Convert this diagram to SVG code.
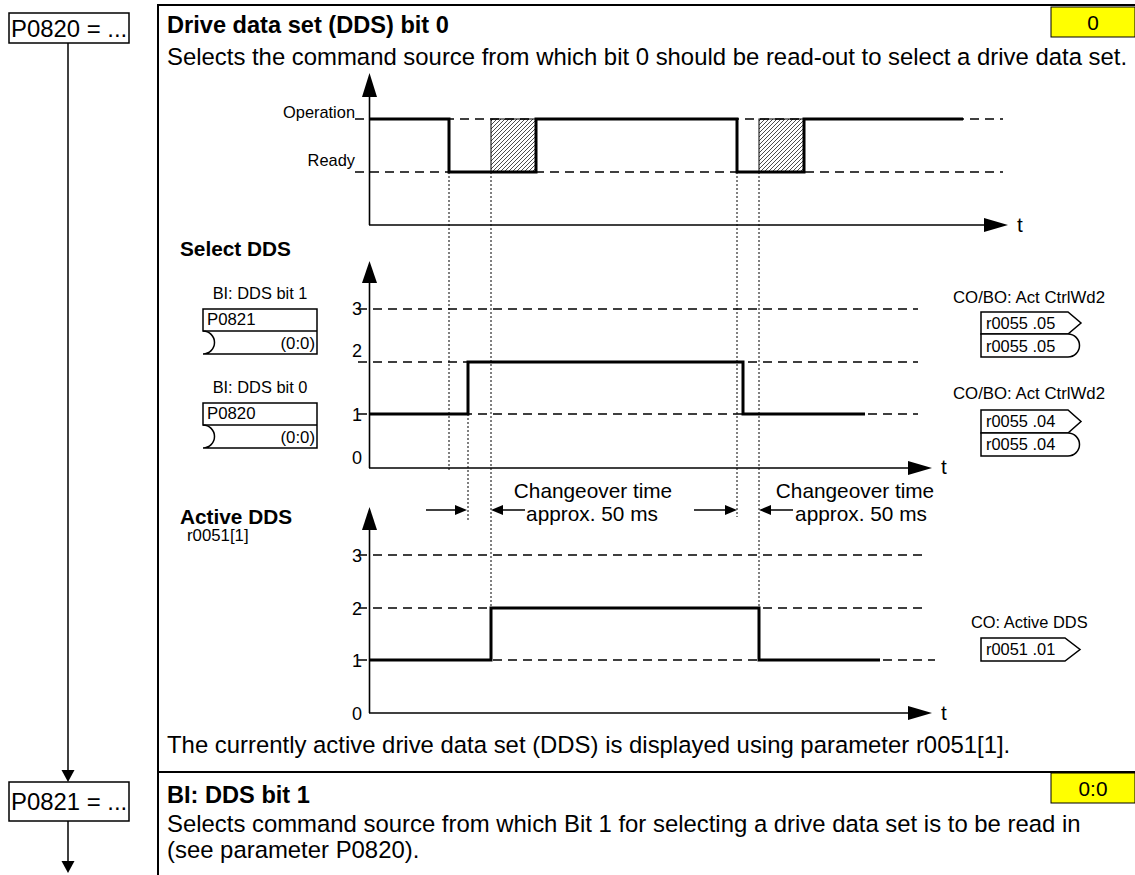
<svg xmlns="http://www.w3.org/2000/svg" width="1135" height="875" viewBox="0 0 1135 875">
<style>
text{font-family:"Liberation Sans",Arial,sans-serif;fill:#000}
.body{font-size:23.9px}
.tb{font-size:23.6px;font-weight:bold}
.b{font-weight:bold}
.lbl{font-size:20.8px}
.sm{font-size:16.4px}
.bx{font-size:16.8px}
.num{font-size:18px}
.frame{stroke:#000;stroke-width:2;fill:none}
.box{stroke:#000;stroke-width:1.5;fill:#fff}
.yel{fill:#ffff00;stroke:#000;stroke-width:1}
.axis{stroke:#000;stroke-width:1.6;fill:none}
.dash{stroke:#000;stroke-width:1.4;stroke-dasharray:9,6;fill:none}
.dot{stroke:#000;stroke-width:1;stroke-dasharray:2,2;fill:none}
.sig{stroke:#000;stroke-width:3;fill:none;stroke-linejoin:miter}
.ah{fill:#000;stroke:none}
.ln{stroke:#000;stroke-width:1.5;fill:none}
</style>
<defs>
<pattern id="hatch" patternUnits="userSpaceOnUse" width="4" height="4">
<path d="M0,4 L4,0 M-1,1 L1,-1 M3,5 L5,3" stroke="#000" stroke-width="0.7"/>
</pattern>
</defs>
<rect width="1135" height="875" fill="#fff"/>

<g id="connectors">
<line class="ln" x1="68" y1="43" x2="68" y2="772"/>
<polygon class="ah" points="61.5,770 74.5,770 68,782"/>
<line class="ln" x1="68" y1="821" x2="68" y2="862"/>
<polygon class="ah" points="61.5,861 74.5,861 68,873"/>
</g>

<g id="node-p0820">
<rect class="box" x="9" y="13" width="120" height="30"/>
<text class="body" x="11" y="36.5">P0820 = ...</text>
</g>
<g id="node-p0821">
<rect class="box" x="9" y="782" width="120" height="39"/>
<text class="body" x="11" y="809.5">P0821 = ...</text>
</g>

<g id="panel-frame">
<line class="frame" x1="158" y1="5" x2="1135" y2="5"/>
<line class="frame" x1="158" y1="4" x2="158" y2="875"/>
<line class="frame" x1="158" y1="772" x2="1135" y2="772"/>
</g>

<g id="section-p0820">
<text class="tb" x="167" y="33">Drive data set (DDS) bit 0</text>
<rect class="yel" x="1051" y="7" width="84" height="30"/>
<text class="lbl" text-anchor="middle" x="1093" y="29.5">0</text>
<text class="body" x="167" y="65">Selects the command source from which bit 0 should be read-out to select a drive data set.</text>
</g>

<g id="chart-operation">
<line class="dash" x1="355" y1="119" x2="1003" y2="119"/>
<line class="dash" x1="355" y1="172" x2="1003" y2="172"/>
<rect x="491" y="119" width="45" height="53" fill="url(#hatch)" stroke="#000" stroke-width="1"/>
<rect x="759" y="119" width="45" height="53" fill="url(#hatch)" stroke="#000" stroke-width="1"/>
<line class="axis" x1="369.5" y1="95" x2="369.5" y2="225"/>
<polygon class="ah" points="362,97 377,97 369.5,73"/>
<line class="axis" x1="369" y1="225" x2="986" y2="225"/>
<polygon class="ah" points="984,218 984,232 1008,225"/>
<path class="sig" d="M369,119 H449 V172 H536 V119 H737 V172 H804 V119 H963"/>
<text class="sm" text-anchor="end" x="355" y="117.5">Operation</text>
<text class="sm" text-anchor="end" x="355" y="166">Ready</text>
<text class="lbl" x="1017" y="232">t</text>
</g>

<g id="timing-guides">
<line class="dot" x1="449" y1="172" x2="449" y2="472"/>
<line class="dot" x1="491" y1="172" x2="491" y2="608"/>
<line class="dot" x1="468" y1="414" x2="468" y2="520"/>
<line class="dot" x1="737" y1="172" x2="737" y2="517"/>
<line class="dot" x1="759" y1="172" x2="759" y2="608"/>
</g>

<g id="chart-select">
<text class="lbl b" x="180" y="255.5">Select DDS</text>
<line class="dash" x1="358" y1="309" x2="918" y2="309"/>
<line class="dash" x1="358" y1="362" x2="918" y2="362"/>
<line class="dash" x1="358" y1="414" x2="918" y2="414"/>
<line class="axis" x1="369.5" y1="281" x2="369.5" y2="468"/>
<polygon class="ah" points="362,283 377,283 369.5,261"/>
<line class="axis" x1="369" y1="468" x2="910" y2="468"/>
<polygon class="ah" points="908,461 908,475 932,468"/>
<path class="sig" d="M370,414 H468 V362 H743 V414 H865"/>
<text class="num" text-anchor="end" x="362" y="314.5">3</text>
<text class="num" text-anchor="end" x="362" y="356.5">2</text>
<text class="num" text-anchor="end" x="362" y="420.5">1</text>
<text class="num" text-anchor="end" x="362" y="463.5">0</text>
<text class="lbl" x="941" y="474">t</text>
</g>

<g id="bi-p0821">
<text class="sm" text-anchor="middle" x="260" y="298.5">BI: DDS bit 1</text>
<path class="box" d="M203,309 H317 V354 H203 A11.5,11.5 0 0 0 203,331 Z"/>
<line class="ln" x1="203" y1="331" x2="317" y2="331"/>
<text class="bx" x="207" y="325">P0821</text>
<text class="bx" text-anchor="end" x="315" y="349">(0:0)</text>
</g>
<g id="bi-p0820">
<text class="sm" text-anchor="middle" x="260" y="392.5">BI: DDS bit 0</text>
<path class="box" d="M203,403 H317 V448 H203 A11.5,11.5 0 0 0 203,425 Z"/>
<line class="ln" x1="203" y1="425" x2="317" y2="425"/>
<text class="bx" x="207" y="419">P0820</text>
<text class="bx" text-anchor="end" x="315" y="443">(0:0)</text>
</g>

<g id="co-r0055-05">
<text class="bx" x="953" y="303">CO/BO: Act CtrlWd2</text>
<path class="box" d="M981,312 H1068 L1081,323 L1068,334 H981 Z"/>
<path class="box" d="M981,334 H1068 A11.5,11.5 0 0 1 1068,357 H981 Z"/>
<text class="sm" x="986" y="328.5">r0055 .05</text>
<text class="sm" x="986" y="351.5">r0055 .05</text>
</g>
<g id="co-r0055-04">
<text class="bx" x="953" y="399">CO/BO: Act CtrlWd2</text>
<path class="box" d="M981,410 H1068 L1081,421.5 L1068,433 H981 Z"/>
<path class="box" d="M981,433 H1068 A11.5,11.5 0 0 1 1068,456 H981 Z"/>
<text class="sm" x="986" y="427">r0055 .04</text>
<text class="sm" x="986" y="450">r0055 .04</text>
</g>

<g id="changeover">
<line class="ln" x1="426" y1="510" x2="457" y2="510"/>
<polygon class="ah" points="455,505 455,515 467,510"/>
<line class="ln" x1="501" y1="510" x2="525" y2="510"/>
<polygon class="ah" points="503,505 503,515 491,510"/>
<text class="lbl" text-anchor="middle" x="593" y="498">Changeover time</text>
<text class="lbl" text-anchor="middle" x="592" y="521">approx. 50 ms</text>
<line class="ln" x1="694" y1="510" x2="727" y2="510"/>
<polygon class="ah" points="725,505 725,515 737,510"/>
<line class="ln" x1="769" y1="510" x2="793" y2="510"/>
<polygon class="ah" points="771,505 771,515 759,510"/>
<text class="lbl" text-anchor="middle" x="855" y="498">Changeover time</text>
<text class="lbl" text-anchor="middle" x="861" y="521">approx. 50 ms</text>
</g>

<g id="chart-active">
<text class="lbl b" x="180" y="523.5">Active DDS</text>
<text class="bx" x="187" y="541">r0051[1]</text>
<line class="dash" x1="358" y1="555" x2="928" y2="555"/>
<line class="dash" x1="358" y1="608" x2="928" y2="608"/>
<line class="dash" x1="358" y1="660" x2="935" y2="660"/>
<line class="axis" x1="369.5" y1="528" x2="369.5" y2="713"/>
<polygon class="ah" points="362,530 377,530 369.5,507"/>
<line class="axis" x1="369" y1="713" x2="910" y2="713"/>
<polygon class="ah" points="908,706 908,720 932,713"/>
<path class="sig" d="M370,660 H491 V608 H759 V660 H880"/>
<text class="num" text-anchor="end" x="362" y="561.5">3</text>
<text class="num" text-anchor="end" x="362" y="614.5">2</text>
<text class="num" text-anchor="end" x="362" y="666.5">1</text>
<text class="num" text-anchor="end" x="362" y="719.5">0</text>
<text class="lbl" x="941" y="720">t</text>
</g>

<g id="co-r0051">
<text class="sm" x="971" y="628">CO: Active DDS</text>
<path class="box" d="M981,638 H1065 L1080,649.5 L1065,661 H981 Z"/>
<text class="sm" x="986" y="655">r0051 .01</text>
</g>

<g id="section-note">
<text class="body" x="167" y="753">The currently active drive data set (DDS) is displayed using parameter r0051[1].</text>
</g>

<g id="section-p0821">
<text class="tb" x="167" y="803">BI: DDS bit 1</text>
<rect class="yel" x="1051" y="773" width="84" height="30"/>
<text class="lbl" text-anchor="middle" x="1093" y="795.5">0:0</text>
<text class="body" x="167" y="832">Selects command source from which Bit 1 for selecting a drive data set is to be read in</text>
<text class="body" x="167" y="858">(see parameter P0820).</text>
</g>
</svg>
